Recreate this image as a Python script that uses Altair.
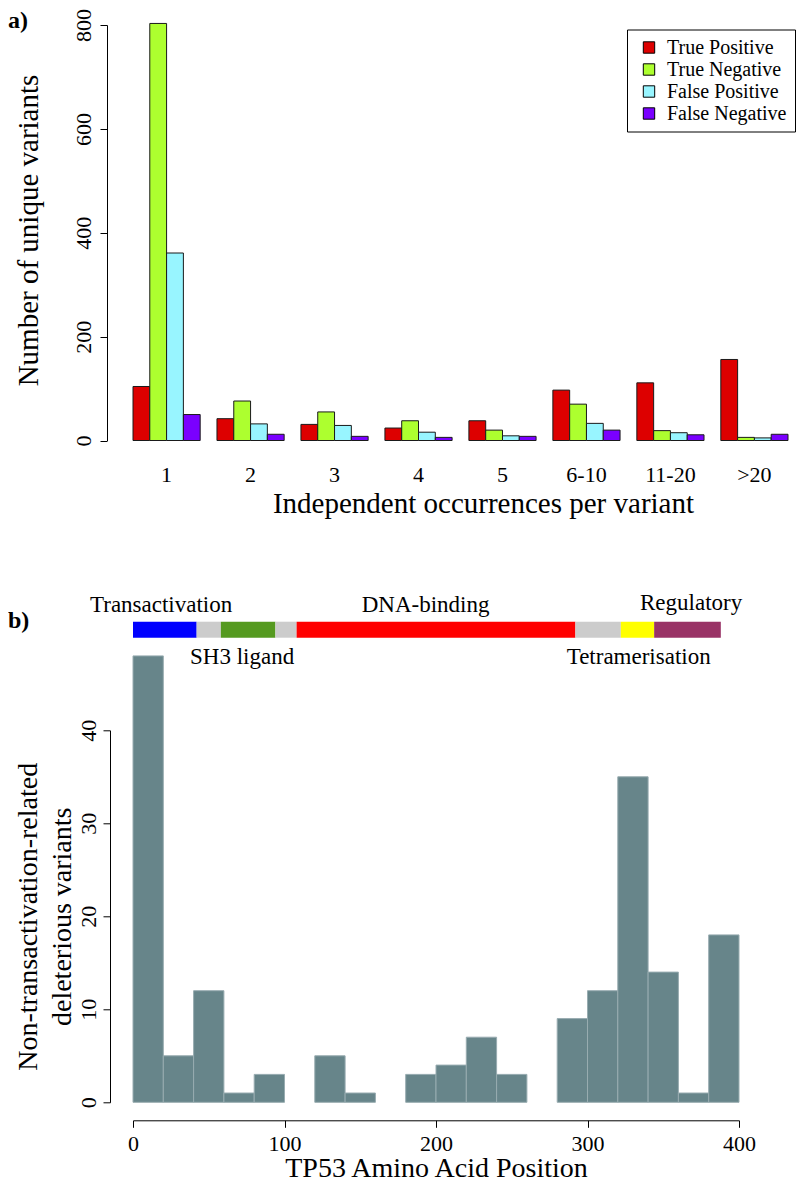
import altair as alt
import pandas as pd

FONT = "Liberation Serif"

# ---------------- Panel a data ----------------
categories = ["1", "2", "3", "4", "5", "6-10", "11-20", ">20"]
types = ["True Positive", "True Negative", "False Positive", "False Negative"]
true_pos = [104, 42, 31, 24, 38, 97, 111, 156]
true_neg = [803, 76, 55, 38, 20, 70, 19, 6]
false_pos = [361, 32, 29, 16, 9, 33, 15, 5]
false_neg = [50, 12, 8, 6, 8, 20, 11, 12]
type_colors = ["#dd0000", "#adff2f", "#98f5ff", "#7a00ff"]
y_ticks_a = [0, 200, 400, 600, 800]

# ---------------- Panel b data ----------------
bin_starts = list(range(0, 400, 20))
bin_width = 20
bin_counts = [48, 5, 12, 1, 3, 0, 5, 1, 0, 3, 4, 7, 3, 0, 9, 12, 35, 14, 1, 18]
x_ticks_b = [0, 100, 200, 300, 400]
y_ticks_b = [0, 10, 20, 30, 40]

domain_names = ["Transactivation", "linker", "SH3 ligand", "linker",
                "DNA-binding", "linker", "Tetramerisation", "Regulatory"]
domain_start = [0, 42, 58, 94, 108, 292, 322, 344]
domain_end = [42, 58, 94, 108, 292, 322, 344, 388]
domain_color_names = ["Transactivation", "linker", "SH3 ligand", "DNA-binding",
                      "Tetramerisation", "Regulatory"]
domain_colors = ["#0000ff", "#cccccc", "#559a20", "#ff0000", "#ffff00", "#993366"]

domain_labels = ["Transactivation", "DNA-binding", "Regulatory", "SH3 ligand", "Tetramerisation"]

# ---------------- Panel a ----------------
rows = []
for i, c in enumerate(categories):
    for t, vals in zip(types, [true_pos, true_neg, false_pos, false_neg]):
        rows.append({"occ": c, "type": t, "count": vals[i]})
df_a = pd.DataFrame(rows)

bars_a = alt.Chart(df_a).mark_bar(stroke="#1a1a1a", strokeWidth=1, opacity=1).encode(
    x=alt.X("occ:N", sort=categories,
            scale=alt.Scale(paddingInner=0.2, paddingOuter=0),
            axis=alt.Axis(title="Independent occurrences per variant", labelAngle=0,
                          domain=False, ticks=False, tickSize=0, labelPadding=24,
                          titlePadding=4, labelFontSize=22, titleFontSize=29,
                          titleX=350, titleAlign="center")),
    xOffset=alt.XOffset("type:N", sort=types,
                        scale=alt.Scale(paddingInner=0, paddingOuter=0)),
    y=alt.Y("count:Q", scale=alt.Scale(domain=[0, 800], nice=False),
            axis=alt.Axis(title="Number of unique variants", values=y_ticks_a,
                          offset=26, tickSize=7, labelAngle=270, labelAlign="center",
                          labelBaseline="alphabetic", labelPadding=10,
                          labelFontSize=22, titleFontSize=29, titleAngle=270,
                          titleX=-79, titleY=205, titleBaseline="middle",
                          titleAlign="center")),
    color=alt.Color("type:N", sort=types,
                    scale=alt.Scale(domain=types, range=type_colors),
                    legend=alt.Legend(title=None, orient="none", legendX=494, legendY=4.5,
                                      labelFont=FONT, labelFontSize=20, labelColor="black",
                                      symbolType="square", symbolSize=130,
                                      symbolStrokeColor="black", symbolStrokeWidth=1,
                                      strokeColor="black", fillColor="white",
                                      padding=8, rowPadding=2, labelOffset=8,
                                      symbolOffset=4)),
)

label_a = alt.Chart(pd.DataFrame({"lab": ["a)"]})).mark_text(
    align="left", baseline="top", font=FONT, fontSize=24, fontWeight="bold", color="black"
).encode(text="lab:N", x=alt.value(-125), y=alt.value(-16.5))

panel_a = alt.layer(bars_a, label_a).properties(width=655, height=415.5)

# ---------------- Panel b ----------------
df_h = pd.DataFrame({"start": bin_starts,
                     "end": [s + bin_width for s in bin_starts],
                     "count": bin_counts})

x_axis_b = alt.Axis(title="TP53 Amino Acid Position", values=x_ticks_b, offset=18,
                    tickSize=7, labelPadding=6, labelFlush=False, labelOverlap=False,
                    labelFontSize=22, titleFontSize=28, titleY=56.5,
                    titleBaseline="alphabetic")

hist = alt.Chart(df_h).transform_filter("datum.count > 0").mark_rect(
    fill="#67858a", stroke="#98acb0", strokeWidth=1
).encode(
    x=alt.X("start:Q", scale=alt.Scale(domain=[0, 400], nice=False, zero=False),
            axis=x_axis_b),
    x2="end:Q",
    y=alt.Y("count:Q", scale=alt.Scale(domain=[0, 40], nice=False),
            axis=alt.Axis(title=["Non-transactivation-related", "deleterious variants"],
                          values=y_ticks_b, offset=23, tickSize=7, labelAngle=270,
                          labelAlign="center", labelBaseline="alphabetic",
                          labelPadding=8, labelFontSize=22, titleFontSize=28,
                          titleAngle=270, titleX=-82, titleY=186,
                          titleBaseline="middle", titleAlign="center",
                          titleLineHeight=34)),
    y2=alt.datum(0),
)

df_d = pd.DataFrame({"name": domain_names, "start": domain_start, "end": domain_end})
dom = alt.Chart(df_d).mark_rect().encode(
    x=alt.X("start:Q", axis=x_axis_b),
    x2="end:Q",
    y=alt.value(-108.6),
    y2=alt.value(-92.6),
    color=alt.Color("name:N", scale=alt.Scale(domain=domain_color_names, range=domain_colors),
                    legend=None),
)

# annotation placement (pixels relative to panel b plot area)
label_pos = {
    "Transactivation": (-43, -125.3),
    "DNA-binding": (228.7, -125.3),
    "Regulatory": (507, -127.3),
    "SH3 ligand": (57, -73.3),
    "Tetramerisation": (433.7, -73.3),
}
text_layers = []
for name in domain_labels:
    px, py = label_pos[name]
    text_layers.append(
        alt.Chart(pd.DataFrame({"lab": [name]})).mark_text(
            align="left", baseline="middle", font=FONT, fontSize=23, color="black"
        ).encode(text="lab:N", x=alt.value(px), y=alt.value(py))
    )

label_b = alt.Chart(pd.DataFrame({"lab": ["b)"]})).mark_text(
    align="left", baseline="middle", font=FONT, fontSize=24, fontWeight="bold", color="black"
).encode(text="lab:N", x=alt.value(-125), y=alt.value(-109))

panel_b = alt.layer(hist, dom, *text_layers, label_b).properties(width=606, height=372)

chart = alt.vconcat(
    panel_a, panel_b, spacing=289.3, bounds="flush", padding=0, background="white"
).resolve_scale(color="independent").configure_view(
    stroke=None
).configure_axis(
    labelFont=FONT, titleFont=FONT, labelColor="black", titleColor="black",
    domainColor="black", tickColor="black", grid=False, titleFontWeight="normal",
    domainWidth=1, tickWidth=1
)

chart.save("out.html", embed_options={"renderer": "svg", "actions": False})
